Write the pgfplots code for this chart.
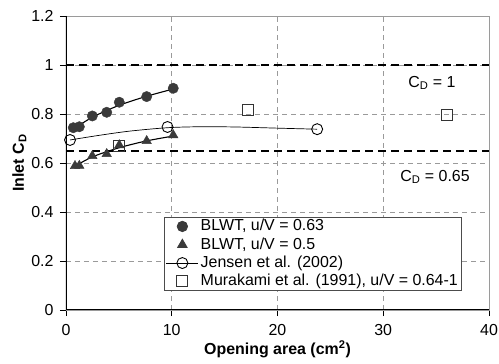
\documentclass[border=0pt]{standalone}
\usepackage{pgfplots}
\pgfplotsset{compat=1.18}
\usepackage{fontspec}
\setmainfont{Liberation Sans}
\definecolor{mk}{HTML}{3A3A3A}
\definecolor{gr}{HTML}{9A9A9A}
\begin{document}
\begin{tikzpicture}
\begin{axis}[
  scale only axis, width=423bp, height=294bp,
  xmin=0, xmax=40, ymin=0, ymax=1.2,
  xtick={0,10,20,30,40}, ytick={0,0.2,0.4,0.6,0.8,1,1.2},
  yticklabels={0,0.2,0.4,0.6,0.8,1,1.2},
  /pgf/number format/assume math mode=true,
  tick label style={font=\fontsize{16}{18}\selectfont},
  xticklabel style={yshift=-5bp},
  yticklabel style={xshift=-3bp},
  tick pos=left, tick align=outside,
  major tick length=6bp,
  tick style={black, line width=0.8pt},
  grid=major,
  grid style={gr, dash pattern=on 5bp off 4bp, line width=0.6pt},
  axis line style={gr, line width=0.8pt},
  xlabel={\textbf{Opening area (cm\textsuperscript{2})}},
  ylabel={\textbf{Inlet C\textsubscript{D}}},
  label style={font=\fontsize{16}{18}\selectfont},
  xlabel style={yshift=2bp},
  ylabel style={yshift=-2bp},
  legend image code/.code={\draw[mark repeat=2,mark phase=2,#1] plot coordinates {(0bp,0bp) (16bp,0bp) (32bp,0bp)};},
  legend style={at={(0.232,0.317)}, anchor=north west, draw=black!70, line width=0.8pt,
    font=\fontsize{16}{18}\selectfont, row sep=2.8bp, inner sep=1.5bp,
    nodes={inner ysep=0pt, inner xsep=2bp, text height=12bp, text depth=3.5bp},
    legend cell align=left},
]
% reference lines
\addplot[black, line width=1.6pt, dash pattern=on 8bp off 5bp, forget plot] coordinates {(0,1) (40,1)};
\addplot[black, line width=1.6pt, dash pattern=on 8bp off 5bp, forget plot] coordinates {(0,0.65) (40,0.65)};
% fit lines
\addplot[black, line width=1.1pt, smooth, forget plot] coordinates {(0.69,0.738) (2.5,0.787) (5,0.835) (7.6,0.872) (10.14,0.902)};
\addplot[black, line width=1.1pt, smooth, forget plot] coordinates {(0.69,0.583) (2.5,0.625) (5,0.662) (7.6,0.690) (10.14,0.710)};
% BLWT 0.63
\addplot[only marks, mark=*, mark size=5.2bp, mark options={fill=mk, draw=mk}] coordinates {
(0.69,0.744) (1.26,0.748) (2.49,0.792) (3.85,0.807) (5.04,0.848) (7.63,0.871) (10.14,0.905)};
\addlegendentry{BLWT, u/V = 0.63}
% BLWT 0.5
\addplot[only marks, mark=triangle*, mark size=5.5bp, mark options={fill=mk, draw=mk}] coordinates {
(0.85,0.588) (1.26,0.589) (2.49,0.629) (3.85,0.637) (5.04,0.673) (7.63,0.690) (10.14,0.714)};
\addlegendentry{BLWT, u/V = 0.5}
% Jensen
\addplot[black, line width=0.7pt, smooth, mark=none, forget plot] coordinates {
(0.38,0.694) (3,0.712) (6,0.730) (9.6,0.744) (12.7,0.748) (16,0.747) (20.2,0.742) (23.75,0.738)};
\addplot[black, line width=0.7pt, only marks, mark=o, mark size=5.5bp, mark options={fill=white, line width=0.9pt}, forget plot] coordinates {
(0.38,0.694) (9.6,0.747) (23.75,0.738)};
\addlegendimage{black, line width=0.7pt, mark=o, mark size=5.5bp, mark options={fill=white, line width=0.9pt}}
\addlegendentry{Jensen et al. (2002)}
% Murakami
\addplot[only marks, mark=square, mark size=5.5bp, mark options={fill=white, draw=black!80, line width=0.9pt}] coordinates {
(4.98,0.671) (17.2,0.818) (36.0,0.798)};
\addlegendentry{Murakami et al. (1991), u/V = 0.64-1}
\node[font=\fontsize{16}{18}\selectfont] at (axis cs:34.6,0.927) {C\textsubscript{D} = 1};
\node[font=\fontsize{16}{18}\selectfont] at (axis cs:34.9,0.543) {C\textsubscript{D} = 0.65};
\draw[black, line width=1.1pt] (rel axis cs:0,1) -- (rel axis cs:0,0) -- (rel axis cs:1,0);
\end{axis}
\pgfresetboundingbox
\path[use as bounding box] (-66bp,-54bp) rectangle (433bp,310bp);
\end{tikzpicture}
\end{document}
